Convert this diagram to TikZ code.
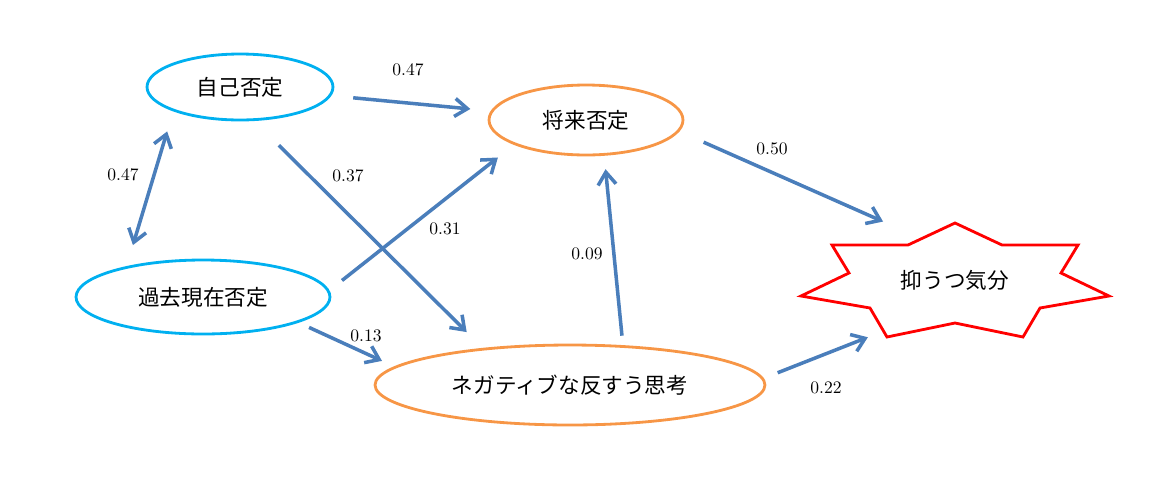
\documentclass[tikz,border=0pt]{standalone}
\usepackage{fontspec}
\newfontfamily\jpfont{Noto Sans CJK JP}
\usepackage{tikz}
\usetikzlibrary{shapes.geometric, arrows.meta}
\definecolor{cogblue}{HTML}{00B0F0}
\definecolor{cogorange}{HTML}{F79646}
\definecolor{linkblue}{HTML}{4A7EBB}

\begin{document}
\begin{tikzpicture}[
  x=0.02cm, y=-0.02cm,
  >={Straight Barb[length=2.5mm, width=3.6mm]},
  font=\fontsize{10}{12}\selectfont,
  cog/.style={draw=#1, line width=1.6pt, ellipse, inner sep=0pt, font=\jpfont\fontsize{12.3}{14}\selectfont},
  link/.style={->, draw=linkblue, line width=2pt},
  coef/.style={font=\fontsize{10}{12}\selectfont},
]
\useasboundingbox (0,0) rectangle (1153,481);

\node[cog=cogblue, minimum width=3.72cm, minimum height=1.32cm] (self) at (240,87) {自己否定};
\node[cog=cogblue, minimum width=5.08cm, minimum height=1.48cm] (past) at (203,297) {過去現在否定};
\node[cog=cogorange, minimum width=3.88cm, minimum height=1.4cm] (fut) at (586,120) {将来否定};
\node[cog=cogorange, minimum width=7.8cm, minimum height=1.6cm] (neg) at (570,385) {ネガティブな反すう思考};
\node[ellipse, inner sep=0pt, minimum width=6cm, minimum height=2cm, font=\jpfont\fontsize{12.3}{14}\selectfont] (dep) at (955,280) {抑うつ気分};

% star round the outcome
\draw[red, line width=1.6pt, line join=miter, shift={(dep.center)}]
  (0,-57) -- (-47,-35) -- (-123,-35) -- (-106,-7) -- (-154,16) -- (-85,28) -- (-68,57)
  -- (0,43) -- (68,57) -- (85,28) -- (154,16) -- (106,-7) -- (123,-35) -- (47,-35) -- cycle;

\draw[link, shorten <=0.44cm, shorten >=0.41cm] (self) -- (fut);
\draw[link, <->, shorten <=0.42cm, shorten >=0.44cm] (self.200) -- (past.158);
\draw[link, shorten <=0.69cm, shorten >=0.45cm] (self.293) -- (neg.157.5);
\draw[link, shorten <=0.32cm, shorten >=0.41cm] (past.3.3) -- (fut.199.3);
\draw[link, shorten <=0.23cm, shorten >=0.27cm] (past.345) -- (neg.174.4);
\draw[link, shorten <=0.19cm, shorten >=0.27cm] (neg.37.2) -- (fut.297.3);
\draw[link, shorten <=0.53cm, shorten >=0.53cm] (fut.353) -- (dep.135.3);
\draw[link, shorten <=0.30cm, shorten >=0.60cm] (neg.2) -- (dep.218.5);

\node[coef] (c1) at (408,70) {0.47};
\node[coef] (c2) at (123,175) {0.47};
\node[coef] (c3) at (348,176) {0.37};
\node[coef] (c4) at (445,229) {0.31};
\node[coef] (c5) at (366,336) {0.13};
\node[coef] (c6) at (587,254) {0.09};
\node[coef] (c7) at (772,149) {0.50};
\node[coef] (c8) at (826,388) {0.22};
\end{tikzpicture}
\end{document}
